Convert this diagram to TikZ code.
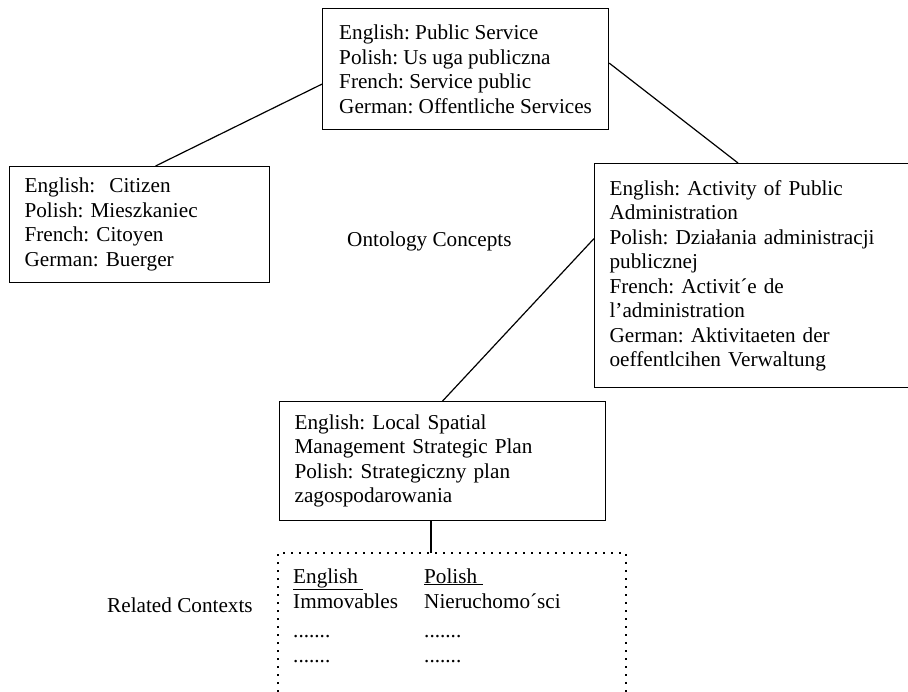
\documentclass[tikz,border=0pt]{standalone}
\usepackage{fontspec}
\setmainfont{Liberation Serif}
\usepackage{tikz}
\usetikzlibrary{calc}
\frenchspacing
\hyphenpenalty=10000
\exhyphenpenalty=10000
\tikzset{
  concept/.style={draw, line width=1.2pt, anchor=north west, align=left,
    inner xsep=15pt, inner ysep=0pt, font=\fontsize{21.2}{24.5}\selectfont},
  caption/.style={font=\fontsize{21.2}{24.5}\selectfont, inner sep=0pt, anchor=base west},
  link/.style={line width=1.2pt},
  frame/.style={line width=1.6pt, dash pattern=on 1.6pt off 6.4pt}
}

\begin{document}
\begin{tikzpicture}[x=1pt, y=-1pt]
\useasboundingbox (0,0) rectangle (908,692);

% ontology concepts
\node[concept, minimum width=286pt, minimum height=121pt] (service) at (322,8)
  {English: Public Service\\ Polish: Us uga publiczna\\ French: Service public\\ German: Offentliche Services};
\node[concept, text width=230pt, minimum height=116pt] (citizen) at (9,166)
  {English:\ \ Citizen\\ Polish: Mieszkaniec\\ French: Citoyen\\ German: Buerger};
\node[concept, text width=320pt, minimum height=224pt] (activity) at (594,163)
  {English: Activity of Public\\ Administration\\ Polish: Działania administracji\\ publicznej\\
   French: Activit´e de\\ l’administration\\ German: Aktivitaeten der\\ oeffentlcihen Verwaltung};
\node[concept, text width=296pt, minimum height=119pt] (plan) at (279,401)
  {English: Local Spatial\\ Management Strategic Plan\\ Polish: Strategiczny plan\\ zagospodarowania};

\node[caption] (ontology) at (347,247) {Ontology Concepts};

\draw[link] ([yshift=-15pt]service.west) -- ([xshift=16pt]citizen.north);
\draw[link] ([yshift=6pt]service.east) -- ($(activity.north west)+(144,0)$);
\draw[link] ([yshift=37pt]activity.west) -- (plan.north);

% related contexts
\coordinate (ctx) at (431,553);
\draw[frame] (278,700) -- (278,553) -- (626,553) -- (626,700);
\draw[link] (plan.south -| ctx) -- (ctx);

\node[caption] (related) at (107,612) {Related Contexts};
\node[caption] (en head) at (293,583) {\underline{English\ }};
\node[caption] (pl head) at (424,583) {\underline{Polish\ }};
\node[caption] (en term) at (293,608) {Immovables};
\node[caption] (pl term) at (424,608) {Nieruchomo´sci};
\node[caption] (en more) at (293,637) {.......};
\node[caption] (pl more) at (424,637) {.......};
\node[caption] (en rest) at (293,662) {.......};
\node[caption] (pl rest) at (424,662) {.......};
\end{tikzpicture}
\end{document}
